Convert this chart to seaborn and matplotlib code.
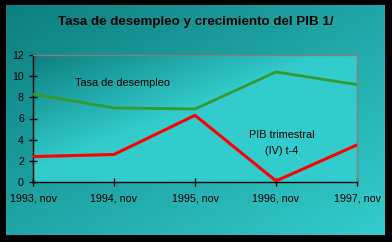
import numpy as np
import pandas as pd
import matplotlib
matplotlib.use("Agg")
import matplotlib.pyplot as plt
import seaborn as sns
from matplotlib.colors import LinearSegmentedColormap

periods = ["1993, nov", "1994, nov", "1995, nov", "1996, nov", "1997, nov"]
desempleo = [8.3, 7.0, 6.9, 10.4, 9.2]
pib = [2.4, 2.6, 6.3, 0.1, 3.5]
y_ticks = [0, 2, 4, 6, 8, 10, 12]
title = "Tasa de desempleo y crecimiento del PIB 1/"

sns.set_theme(style="white")
plt.rcParams['font.family'] = ['Liberation Sans', 'DejaVu Sans']

W, H = 392, 242
fig = plt.figure(figsize=(W / 100, H / 100), dpi=100, facecolor="black")

cmap = LinearSegmentedColormap.from_list("teal", ["#0E7F7F", "#33CCCC"])

# panel background with diagonal gradient
bg = fig.add_axes([6 / W, (H - 235) / H, 379 / W, 230 / H])
u, v = np.meshgrid(np.linspace(0, 1, 200), np.linspace(0, 1, 200))
bg.imshow((u + v) / 2, cmap=cmap, aspect="auto", extent=[0, 1, 0, 1], origin="upper", vmin=0, vmax=1)
bg.set_axis_off()

ax = fig.add_axes([33 / W, (H - 182) / H, 324 / W, 127 / H])
ax.patch.set_visible(False)
t = np.clip((u + v) * 1.1, 0, 1)
ax.imshow(t, cmap=cmap, aspect="auto", extent=[0, 1, 0, 1], origin="upper",
          transform=ax.transAxes, zorder=0, vmin=0, vmax=1)

df = pd.DataFrame({"periodo": periods, "desempleo": desempleo, "pib": pib})
sns.lineplot(data=df, x="periodo", y="desempleo", ax=ax, color="#339933", linewidth=2.0, zorder=3)
sns.lineplot(data=df, x="periodo", y="pib", ax=ax, color="#FF0000", linewidth=2.2, zorder=3)

ax.set_xlim(0, len(periods) - 1)
ax.set_ylim(0, 12)
ax.set_yticks(y_ticks)
ax.set_yticklabels([str(v) for v in y_ticks])
ax.set_xlabel("")
ax.set_ylabel("")

for s in ["left", "bottom"]:
    ax.spines[s].set_color("black")
    ax.spines[s].set_linewidth(1.0)
for s in ["top", "right"]:
    ax.spines[s].set_color("#808080")
    ax.spines[s].set_linewidth(1.0)

ax.tick_params(axis="both", direction="inout", length=6, width=1, color="black",
               labelsize=7.7, labelcolor="black")
ax.tick_params(axis="x", pad=5.5)
ax.tick_params(axis="y", pad=3.5)
ax.tick_params(left=True, bottom=True)

ax.text(0.52, 9.35, "Tasa de desempleo", fontsize=7.8, color="black", va="center", ha="left")
ax.text(3.07, 4.45, "PIB trimestral", fontsize=7.8, color="black", va="center", ha="center")
ax.text(3.07, 2.95, "(IV) t-4", fontsize=7.8, color="black", va="center", ha="center")

fig.text(196 / W, 1 - 22 / H, title, fontsize=9.6, fontweight="bold", color="black",
         ha="center", va="center")

fig.savefig("out.png", dpi=100, facecolor="black")
